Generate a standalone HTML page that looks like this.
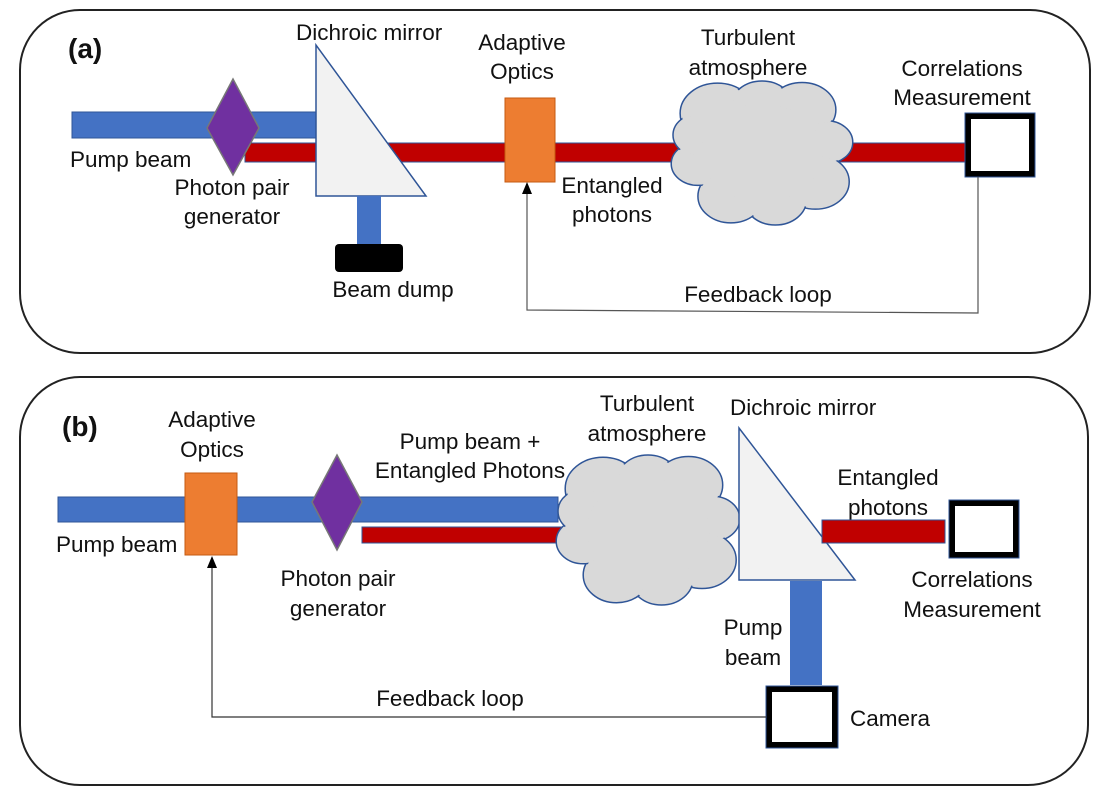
<!DOCTYPE html>
<html><head><meta charset="utf-8"><style>
html,body{margin:0;padding:0;background:#fff}
svg{display:block}
text{font-family:"Liberation Sans",sans-serif;font-size:22.5px;fill:#111}
</style></head><body>
<svg width="1105" height="795" viewBox="0 0 1105 795" xmlns="http://www.w3.org/2000/svg">
<defs>
<g id="cl">
<g fill="#d9d9d9" stroke="#2f5597" stroke-width="1.5" vector-effect="non-scaling-stroke">
<circle cx="-0.5" cy="-0.55" r="0.42" vector-effect="non-scaling-stroke"/>
<circle cx="0" cy="-0.65" r="0.35" vector-effect="non-scaling-stroke"/>
<circle cx="0.45" cy="-0.6" r="0.38" vector-effect="non-scaling-stroke"/>
<circle cx="0.72" cy="-0.15" r="0.3" vector-effect="non-scaling-stroke"/>
<circle cx="0.6" cy="0.4" r="0.38" vector-effect="non-scaling-stroke"/>
<circle cx="0.15" cy="0.65" r="0.35" vector-effect="non-scaling-stroke"/>
<circle cx="-0.35" cy="0.6" r="0.37" vector-effect="non-scaling-stroke"/>
<circle cx="-0.72" cy="0.15" r="0.3" vector-effect="non-scaling-stroke"/>
<circle cx="-0.7" cy="-0.25" r="0.3" vector-effect="non-scaling-stroke"/>
</g>
<g fill="#d9d9d9">
<circle cx="-0.5" cy="-0.55" r="0.40"/>
<circle cx="0" cy="-0.65" r="0.33"/>
<circle cx="0.45" cy="-0.6" r="0.36"/>
<circle cx="0.72" cy="-0.15" r="0.28"/>
<circle cx="0.6" cy="0.4" r="0.36"/>
<circle cx="0.15" cy="0.65" r="0.33"/>
<circle cx="-0.35" cy="0.6" r="0.35"/>
<circle cx="-0.72" cy="0.15" r="0.28"/>
<circle cx="-0.7" cy="-0.25" r="0.28"/>
<circle cx="0" cy="0" r="0.68"/>
</g>
</g>
</defs>

<!-- Panel a -->
<rect x="20" y="10" width="1070" height="343" rx="60" fill="none" stroke="#222" stroke-width="2"/>
<text x="68" y="58" style="font-size:28px;font-weight:bold">(a)</text>
<rect x="72" y="112" width="258" height="26" fill="#4472c4" stroke="#2f5597"/>
<rect x="245" y="143" width="725" height="19" fill="#c00000" stroke="#2f5597"/>
<polygon points="233,79 259,128 233,175 207,128" fill="#7030a0" stroke="#777" stroke-width="1.5"/>
<polygon points="316,45 316,196 426,196" fill="#f2f2f2" stroke="#2f5597" stroke-width="1.5"/>
<rect x="357" y="196" width="24" height="49" fill="#4472c4"/>
<rect x="335" y="244" width="68" height="28" rx="4" fill="#000"/>
<rect x="505" y="98" width="50" height="84" fill="#ed7d31" stroke="#c55a11"/>
<use href="#cl" transform="translate(762,153) scale(89,72)"/>
<rect x="968" y="116" width="64" height="58" fill="#fff" stroke="#000" stroke-width="6"/>
<rect x="965" y="113" width="70" height="64" fill="none" stroke="#2f5597" stroke-width="1"/>
<polyline points="978,177 978,313 527,310 527,190" fill="none" stroke="#555" stroke-width="1.2"/>
<polygon points="527,182 522,194 532,194" fill="#000"/>
<text x="296" y="40">Dichroic mirror</text>
<text x="522" y="50" text-anchor="middle">Adaptive</text>
<text x="522" y="79" text-anchor="middle">Optics</text>
<text x="748" y="45" text-anchor="middle">Turbulent</text>
<text x="748" y="75" text-anchor="middle">atmosphere</text>
<text x="962" y="76" text-anchor="middle">Correlations</text>
<text x="962" y="105" text-anchor="middle">Measurement</text>
<text x="70" y="167">Pump beam</text>
<text x="232" y="195" text-anchor="middle">Photon pair</text>
<text x="232" y="224" text-anchor="middle">generator</text>
<text x="612" y="193" text-anchor="middle">Entangled</text>
<text x="612" y="222" text-anchor="middle">photons</text>
<text x="393" y="297" text-anchor="middle">Beam dump</text>
<text x="758" y="302" text-anchor="middle">Feedback loop</text>

<!-- Panel b -->
<rect x="20" y="377" width="1068" height="408" rx="60" fill="none" stroke="#222" stroke-width="2"/>
<text x="62" y="436" style="font-size:28px;font-weight:bold">(b)</text>
<rect x="58" y="497" width="500" height="25" fill="#4472c4" stroke="#2f5597"/>
<rect x="362" y="527" width="210" height="16" fill="#c00000" stroke="#2f5597"/>
<rect x="185" y="473" width="52" height="82" fill="#ed7d31" stroke="#c55a11"/>
<polygon points="337,455 362,502 337,550 312,502" fill="#7030a0" stroke="#777" stroke-width="1.5"/>
<use href="#cl" transform="translate(648,530) scale(90,75)"/>
<polygon points="739,428 739,580 855,580" fill="#f2f2f2" stroke="#2f5597" stroke-width="1.5"/>
<rect x="822" y="520" width="123" height="23" fill="#c00000" stroke="#2f5597"/>
<rect x="790" y="581" width="32" height="104" fill="#4472c4"/>
<rect x="952" y="503" width="64" height="52" fill="#fff" stroke="#000" stroke-width="6"/>
<rect x="949" y="500" width="70" height="58" fill="none" stroke="#2f5597" stroke-width="1"/>
<rect x="769" y="689" width="66" height="56" fill="#fff" stroke="#000" stroke-width="6"/>
<rect x="766" y="686" width="72" height="62" fill="none" stroke="#2f5597" stroke-width="1"/>
<polyline points="766,717 212,717 212,565" fill="none" stroke="#333" stroke-width="1.2"/>
<polygon points="212,556 207,568 217,568" fill="#000"/>
<text x="212" y="427" text-anchor="middle">Adaptive</text>
<text x="212" y="457" text-anchor="middle">Optics</text>
<text x="56" y="552">Pump beam</text>
<text x="338" y="586" text-anchor="middle">Photon pair</text>
<text x="338" y="616" text-anchor="middle">generator</text>
<text x="470" y="449" text-anchor="middle">Pump beam +</text>
<text x="470" y="478" text-anchor="middle">Entangled Photons</text>
<text x="647" y="411" text-anchor="middle">Turbulent</text>
<text x="647" y="441" text-anchor="middle">atmosphere</text>
<text x="730" y="415">Dichroic mirror</text>
<text x="888" y="485" text-anchor="middle">Entangled</text>
<text x="888" y="515" text-anchor="middle">photons</text>
<text x="972" y="587" text-anchor="middle">Correlations</text>
<text x="972" y="617" text-anchor="middle">Measurement</text>
<text x="753" y="635" text-anchor="middle">Pump</text>
<text x="753" y="665" text-anchor="middle">beam</text>
<text x="850" y="726">Camera</text>
<text x="450" y="706" text-anchor="middle">Feedback loop</text>
</svg>
</body></html>
